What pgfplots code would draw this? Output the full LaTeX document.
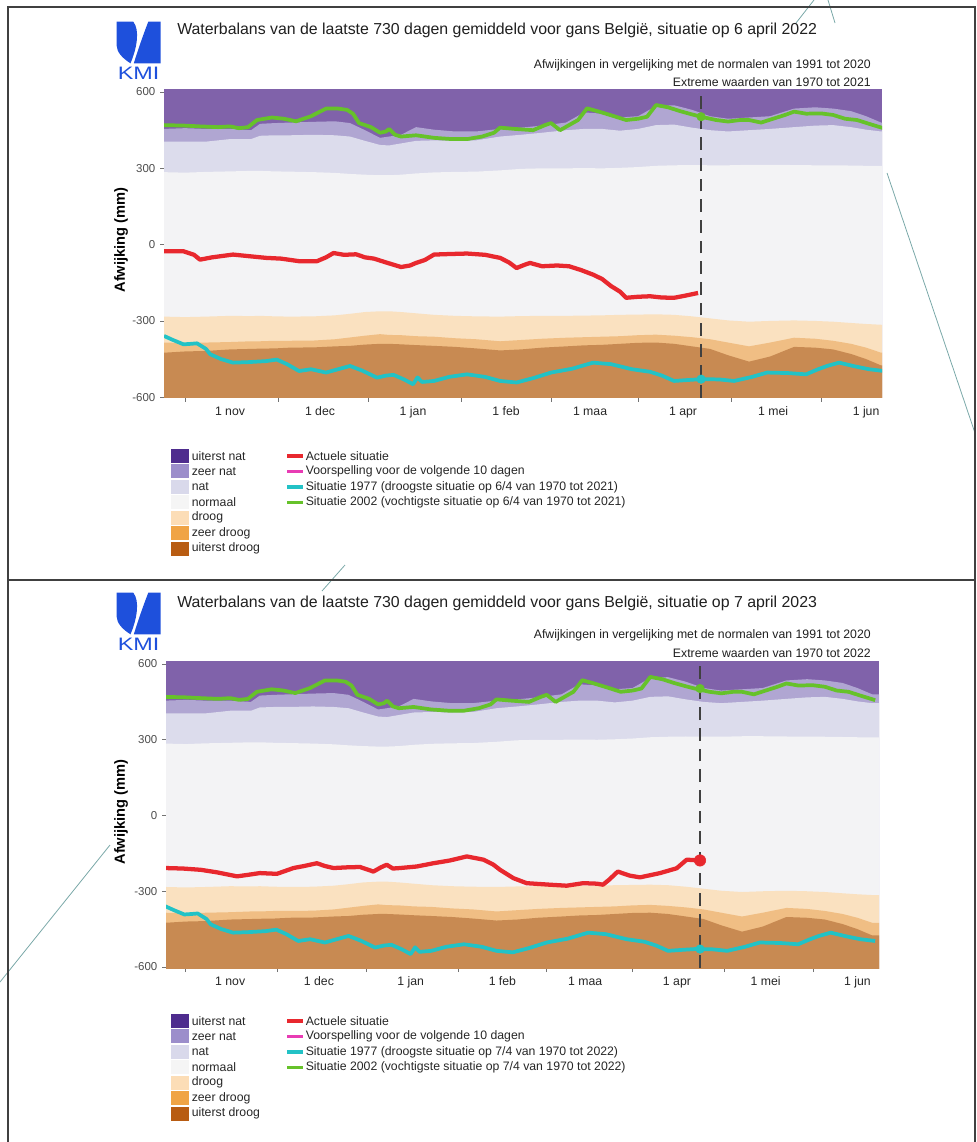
\documentclass[border=0pt]{standalone}
\usepackage{pgfplots}
\pgfplotsset{compat=1.18}
\usepackage{pgfplotstable}
\usepackage{fontspec}
\setmainfont{Liberation Sans}

\definecolor{cUN}{HTML}{8062AA}
\definecolor{cZN}{HTML}{B0A6D2}
\definecolor{cN}{HTML}{DCDCEC}
\definecolor{cNo}{HTML}{F3F3F5}
\definecolor{cD}{HTML}{FAE1C0}
\definecolor{cZD}{HTML}{F0BE84}
\definecolor{cUD}{HTML}{C88A52}
\definecolor{lUN}{HTML}{4E2C8E}
\definecolor{lZN}{HTML}{9C8ECB}
\definecolor{lN}{HTML}{D9D9EB}
\definecolor{lNo}{HTML}{F5F5F5}
\definecolor{lD}{HTML}{FCDDB6}
\definecolor{lZD}{HTML}{F0A445}
\definecolor{lUD}{HTML}{B85C12}
\definecolor{cRed}{HTML}{E8282E}
\definecolor{cMag}{HTML}{E83CB4}
\definecolor{cCyan}{HTML}{22C2C6}
\definecolor{cGreen}{HTML}{66C22A}
\definecolor{kmiblue}{HTML}{1E50DC}
\definecolor{stray}{HTML}{7AA8A8}

\pgfplotstableread{
x b1 b2 b3 b4 b5 b6
-30 -700 -700 -700 -700 -700 -700
-30 455 405 285 -283 -385 -425
-22 455 405 285 -283 -385 -425
-15 458 405 283 -285 -387 -420
-8 455 405 286 -283 -385 -418
0 455 415 288 -280 -383 -412
7 450 415 290 -281 -380 -410
10 475 428 290 -280 -380 -409
15 478 430 288 -282 -378 -408
20 480 430 287 -283 -378 -405
28 483 432 285 -282 -377 -404
35 485 430 282 -278 -372 -400
40 478 425 278 -272 -365 -398
45 450 408 275 -265 -358 -393
50 420 392 273 -262 -352 -390
53 425 390 273 -262 -355 -390
57 432 398 275 -265 -356 -392
62 462 408 280 -270 -360 -395
68 452 410 284 -276 -362 -398
75 445 408 286 -280 -368 -402
82 445 410 287 -282 -372 -408
90 455 425 292 -283 -380 -416
97 460 432 298 -281 -375 -412
104 468 440 300 -280 -370 -405
112 480 450 300 -280 -366 -400
118 520 455 301 -279 -364 -396
124 515 455 300 -278 -362 -394
130 500 448 302 -276 -360 -390
136 505 455 305 -275 -356 -386
142 545 470 310 -274 -354 -385
148 548 472 312 -276 -358 -390
154 530 460 313 -282 -364 -400
160 505 450 312 -290 -372 -410
166 495 445 312 -298 -385 -435
173 500 450 314 -303 -400 -460
180 505 455 314 -300 -385 -440
188 535 462 313 -298 -366 -402
195 540 468 312 -300 -370 -405
201 535 470 312 -303 -378 -412
207 525 462 311 -308 -390 -430
212 505 452 310 -312 -405 -450
217 480 445 310 -315 -425 -475
230 480 445 310 -315 -425 -475
230 -700 -700 -700 -700 -700 -700
}\bands

\pgfplotstableread{
x y
-22 470
-15 468
-10 465
-4 462
0 465
3 458
6 462
9 490
14 500
18 495
22 485
27 505
32 535
36 535
39 530
41 515
43 478
47 462
50 440
52 445
53 455
55 432
57 425
62 430
68 420
74 415
79 415
84 425
88 440
90 460
95 455
101 450
105 470
107 478
110 450
113 470
116 490
119 536
123 523
128 505
132 490
136 495
139 503
142 549
146 540
150 525
154 512
157 503
162 490
166 484
170 490
173 490
177 480
181 495
185 510
188 523
192 515
197 516
201 510
205 495
209 490
213 475
218 457
}\green

\pgfplotstableread{
x y
-22 -359
-19 -375
-15.5 -392
-13 -390
-11 -388
-8 -410
-6.6 -431
-3 -450
1 -464
6 -462
12 -458
15.6 -452
19 -470
23 -497
27 -490
32 -503
36 -490
40 -477
44 -495
49 -523
52 -515
54.5 -512
58 -530
61 -549
62.5 -522
64 -540
68 -536
73 -520
79 -510
85 -520
90 -536
95.5 -542
101 -525
107 -503
114 -488
121 -464
127 -470
134 -490
140 -500
144 -515
148 -536
153 -532
157 -529
163 -530
168 -536
174 -520
179 -503
186 -505
192 -510
196 -490
199 -477
203 -464
208 -478
213 -490
218 -497
}\cyan

\pgfplotstableread{
x y
-22 -26
-15.5 -26
-12 -40
-10 -59
-6 -50
1 -39
6 -45
12 -52
17 -55
23 -65
29 -65
32 -50
34.5 -33
38 -40
42 -38
45 -50
48 -55
52 -70
57 -88
60 -82
62 -72
65 -60
68 -39
73 -37
79 -35
85 -40
90 -52
93 -70
95.5 -92
98 -80
100 -72
104 -85
109 -82
113 -85
117 -100
121 -118
124 -135
127 -163
130 -185
132 -209
136 -205
140 -203
144 -208
148 -209
152 -200
156 -190
}\redA

\pgfplotstableread{
x y
-22 -208
-16 -210
-10 -215
-4.5 -225
2.3 -241
6 -235
10 -228
15.8 -231
21.4 -208
25 -200
29.3 -189
32 -200
34.9 -208
40 -205
43.9 -204
48.4 -222
51 -205
52.9 -195
55 -210
57.4 -208
63 -202
68.7 -189
74.3 -178
80 -162
85.6 -175
89 -195
91.2 -215
95.7 -248
100.2 -268
108 -274
113.7 -278
119.3 -268
124 -270
126 -274
128 -255
131 -222
135 -238
138.5 -245
145.3 -228
150.9 -209
154.3 -175
158.8 -178
}\redB

\pgfplotsset{
  kmi/.style={
    scale only axis,
    ymin=-604, ymax=612,
    axis background/.style={fill=cUN},
    axis lines*=left,
    axis line style={draw=none},
    tick align=outside,
    major tick length=3pt,
    minor tick length=3pt,
    tick style={black!55, line width=0.5pt},
    xtick={0,30,61,92,120,151,181,212},
    xticklabels={1 nov,1 dec,1 jan,1 feb,1 maa,1 apr,1 mei,1 jun},
    minor xtick={-15,16,46,77,107,136,167,197},
    every major x tick/.append style={draw=none},
    ytick={-600,-300,0,300,600},
    yticklabels={-600,-300,0,300,600},
    xticklabel style={font=\fontsize{9.2}{10}\selectfont, text=black!85},
    yticklabel style={font=\fontsize{8.6}{10}\selectfont, text=black!70},
    clip=true,
  },
  band/.style={draw=none, fill=#1, forget plot},
}

\begin{document}
\begin{tikzpicture}[x=0.75pt,y=-0.75pt]
\useasboundingbox (0,0) rectangle (976,1142);

% stray annotation lines
\draw[stray, line width=0.6pt] (814,0) -- (796,23);
\draw[stray, line width=0.6pt] (828,0) -- (835,23);
\draw[stray, line width=0.6pt] (887,173) -- (975,433);
\draw[stray, line width=0.6pt] (345,565) -- (322,591);
\draw[stray, line width=0.6pt] (110,845) -- (0,982);

% frame
\draw[black!75, line width=1.1pt] (8,1142) -- (8,7) -- (975,7) -- (975,1142);
\draw[black!75, line width=1.1pt] (8,580) -- (975,580);

% ============ TOP PANEL ============
\fill[kmiblue] (116.7,21.7) -- (133.3,21.7) .. controls (140,30) and (137,48) .. (130.5,63.3) .. controls (122,58) and (117,52) .. (116.7,46) -- cycle;
\fill[kmiblue] (148.3,21.7) -- (160.5,21.7) -- (160.5,63.3) -- (133.8,63.3) .. controls (138,50) and (142,38) .. (148.3,21.7) -- cycle;
\node[kmiblue, font=\fontsize{13.5}{14}\selectfont, inner sep=0pt] at (138.6,73.6) {\scalebox{1.3}[1]{KMI}};

\node[anchor=west, inner sep=0pt, font=\fontsize{11.9}{13}\selectfont, text=black!88] at (177,30) {Waterbalans van de laatste 730 dagen gemiddeld voor gans België, situatie op 6 april 2022};
\node[anchor=east, inner sep=0pt, font=\fontsize{9.2}{10}\selectfont, text=black!88] at (871,65) {Afwijkingen in vergelijking met de normalen van 1991 tot 2020};
\node[anchor=east, inner sep=0pt, font=\fontsize{9.2}{10}\selectfont, text=black!88] at (871,82) {Extreme waarden van 1970 tot 2021};
\node[rotate=90, inner sep=0pt, font=\bfseries\fontsize{11}{12}\selectfont] at (121,240) {Afwijking (mm)};

\begin{axis}[kmi, at={(123pt,-66.75pt)}, anchor=north west,
  width=538.5pt, height=231.75pt, xmin=-22, xmax=217.3, ymin=-603, ymax=612]
  \addplot[band=cZN] table[x=x,y=b1] {\bands};
  \addplot[band=cN] table[x=x,y=b2] {\bands};
  \addplot[band=cNo] table[x=x,y=b3] {\bands};
  \addplot[band=cD] table[x=x,y=b4] {\bands};
  \addplot[band=cZD] table[x=x,y=b5] {\bands};
  \addplot[band=cUD] table[x=x,y=b6] {\bands};
  \addplot[cGreen, line width=2.8pt, line join=round] table {\green};
  \addplot[cCyan, line width=2.8pt, line join=round] table {\cyan};
  \addplot[cRed, line width=3.2pt, line join=round] table {\redA};
  \addplot[black!75, line width=1.9pt, dash pattern=on 9.5pt off 6pt] coordinates {(157,-603) (157,612)};
  \addplot[only marks, mark=*, mark size=3.2pt, cGreen] coordinates {(157,503)};
  \addplot[only marks, mark=*, mark size=3.2pt, cCyan] coordinates {(157,-529)};
\end{axis}

% legend top
\foreach \c/\t [count=\i from 0] in {lUN/{uiterst nat}, lZN/{zeer nat}, lN/{nat}, lNo/{normaal}, lD/{droog}, lZD/{zeer droog}, lUD/{uiterst droog}}{
  \fill[\c] (171,449+15.45*\i) rectangle (189,463+15.45*\i);
  \node[anchor=west, inner sep=0pt, font=\fontsize{9.2}{10}\selectfont, text=black!85] at (191.5,456+15.45*\i) {\t};
}
\foreach \c/\t [count=\i from 0] in {cRed/{Actuele situatie}, cMag/{Voorspelling voor de volgende 10 dagen}, cCyan/{Situatie 1977 (droogste situatie op 6/4 van 1970 tot 2021)}, cGreen/{Situatie 2002 (vochtigste situatie op 6/4 van 1970 tot 2021)}}{
  \draw[\c, line width=2.6pt] (287,456+15.45*\i) -- (303,456+15.45*\i);
  \node[anchor=west, inner sep=0pt, font=\fontsize{9.2}{10}\selectfont, text=black!85] at (305.5,456+15.45*\i) {\t};
}

% ============ BOTTOM PANEL ============
\begin{scope}[yshift=-571*0.75pt]
\fill[kmiblue] (116.7,21.7) -- (133.3,21.7) .. controls (140,30) and (137,48) .. (130.5,63.3) .. controls (122,58) and (117,52) .. (116.7,46) -- cycle;
\fill[kmiblue] (148.3,21.7) -- (160.5,21.7) -- (160.5,63.3) -- (133.8,63.3) .. controls (138,50) and (142,38) .. (148.3,21.7) -- cycle;
\node[kmiblue, font=\fontsize{13.5}{14}\selectfont, inner sep=0pt] at (138.6,73.6) {\scalebox{1.3}[1]{KMI}};
\node[anchor=west, inner sep=0pt, font=\fontsize{11.9}{13}\selectfont, text=black!88] at (177,32) {Waterbalans van de laatste 730 dagen gemiddeld voor gans België, situatie op 7 april 2023};
\node[anchor=east, inner sep=0pt, font=\fontsize{9.2}{10}\selectfont, text=black!88] at (871,64) {Afwijkingen in vergelijking met de normalen van 1991 tot 2020};
\node[anchor=east, inner sep=0pt, font=\fontsize{9.2}{10}\selectfont, text=black!88] at (871,82) {Extreme waarden van 1970 tot 2022};
\node[rotate=90, inner sep=0pt, font=\bfseries\fontsize{11}{12}\selectfont] at (121,241) {Afwijking (mm)};
\end{scope}

\begin{axis}[kmi, at={(124.5pt,-495.75pt)}, anchor=north west,
  width=534.75pt, height=230.25pt, xmin=-21.7, xmax=219.3, ymin=-604, ymax=612]
  \addplot[band=cZN] table[x=x,y=b1] {\bands};
  \addplot[band=cN] table[x=x,y=b2] {\bands};
  \addplot[band=cNo] table[x=x,y=b3] {\bands};
  \addplot[band=cD] table[x=x,y=b4] {\bands};
  \addplot[band=cZD] table[x=x,y=b5] {\bands};
  \addplot[band=cUD] table[x=x,y=b6] {\bands};
  \addplot[cGreen, line width=2.8pt, line join=round] table {\green};
  \addplot[cCyan, line width=2.8pt, line join=round] table {\cyan};
  \addplot[cRed, line width=3.2pt, line join=round] table {\redB};
  \addplot[black!75, line width=1.9pt, dash pattern=on 9.5pt off 6pt] coordinates {(158.8,-604) (158.8,612)};
  \addplot[only marks, mark=*, mark size=3.2pt, cGreen] coordinates {(158.8,503)};
  \addplot[only marks, mark=*, mark size=3.2pt, cCyan] coordinates {(158.8,-529)};
  \addplot[only marks, mark=*, mark size=4.3pt, cRed] coordinates {(158.8,-178)};
\end{axis}

% legend bottom
\foreach \c/\t [count=\i from 0] in {lUN/{uiterst nat}, lZN/{zeer nat}, lN/{nat}, lNo/{normaal}, lD/{droog}, lZD/{zeer droog}, lUD/{uiterst droog}}{
  \fill[\c] (171,1014+15.45*\i) rectangle (189,1028+15.45*\i);
  \node[anchor=west, inner sep=0pt, font=\fontsize{9.2}{10}\selectfont, text=black!85] at (191.5,1021+15.45*\i) {\t};
}
\foreach \c/\t [count=\i from 0] in {cRed/{Actuele situatie}, cMag/{Voorspelling voor de volgende 10 dagen}, cCyan/{Situatie 1977 (droogste situatie op 7/4 van 1970 tot 2022)}, cGreen/{Situatie 2002 (vochtigste situatie op 7/4 van 1970 tot 2022)}}{
  \draw[\c, line width=2.6pt] (287,1021+15.45*\i) -- (303,1021+15.45*\i);
  \node[anchor=west, inner sep=0pt, font=\fontsize{9.2}{10}\selectfont, text=black!85] at (305.5,1021+15.45*\i) {\t};
}
\end{tikzpicture}
\end{document}
